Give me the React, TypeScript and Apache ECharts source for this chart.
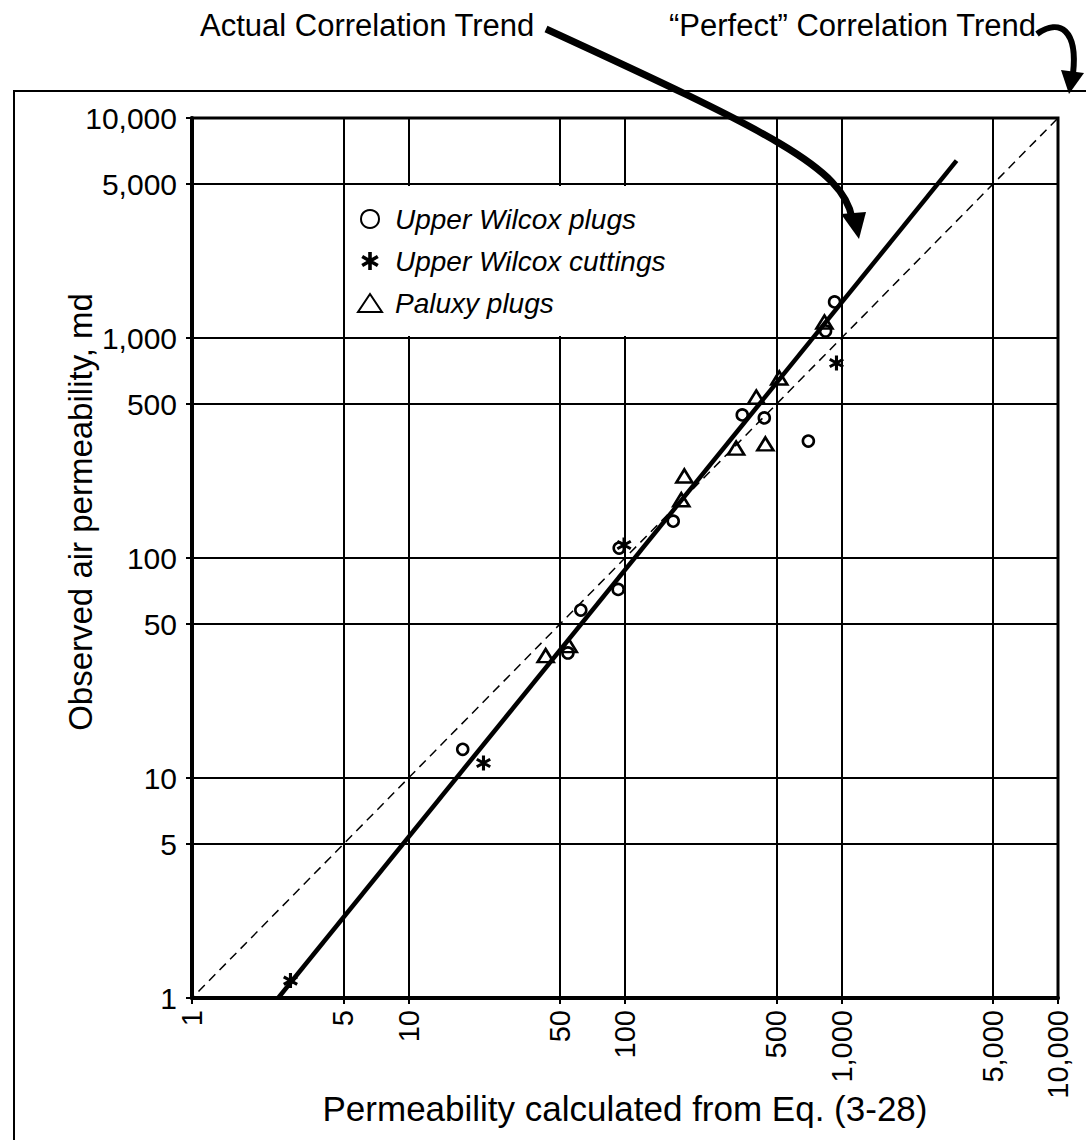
import React, { useEffect, useRef } from 'react';
import * as echarts from 'echarts';

// ---- data ----
const TICK_VALUES = [1, 5, 10, 50, 100, 500, 1000, 5000, 10000];

const UPPER_WILCOX_PLUGS: [number, number][] = [
  [17.8, 13.5], [54.5, 37], [62.5, 58], [93, 72], [94, 111], [167, 147],
  [348, 447], [440, 433], [703, 340], [844, 1076], [929, 1458],
];
const UPPER_WILCOX_CUTTINGS: [number, number][] = [
  [2.85, 1.2], [22.2, 11.7], [99, 114.6], [948, 770],
];
const PALUXY_PLUGS: [number, number][] = [
  [43, 36], [55, 40], [182, 184], [188, 236], [326, 316], [404, 539],
  [445, 330], [516, 658], [834, 1182],
];
const ACTUAL_TREND: [number, number][] = [[2.5, 1], [3400, 6400]];
const PERFECT_TREND: [number, number][] = [[0.2, 0.2], [13000, 13000]];

const SERIES_NAMES = ['Upper Wilcox plugs', 'Upper Wilcox cuttings', 'Paluxy plugs'];
const X_TITLE = 'Permeability calculated from Eq. (3-28)';
const Y_TITLE = 'Observed air permeability, md';
const NOTE_ACTUAL = 'Actual Correlation Trend';
const NOTE_PERFECT = '\u201CPerfect\u201D Correlation Trend';

const FONT = '"Liberation Sans", Arial, sans-serif';
const ASTERISK =
  'path://M-2,-10L2,-10L2,10L-2,10Z' +
  'M7.66,-6.73L9.66,-3.27L-7.66,6.73L-9.66,3.27Z' +
  'M-9.66,-3.27L-7.66,-6.73L9.66,3.27L7.66,6.73Z';

const fmt = (v: number) => Math.round(v).toLocaleString('en-US');

export default function App() {
  const ref = useRef<HTMLDivElement>(null);
  useEffect(() => {
    document.body.style.margin = '0';
    if (!ref.current) return;
    const chart = echarts.init(ref.current, null, { renderer: 'svg' });
    const axisCommon = {
      type: 'log' as const,
      logBase: 10,
      min: 1,
      max: 10000,
      axisLine: { show: true, lineStyle: { color: '#000', width: 4 } },
      axisTick: { show: true, customValues: TICK_VALUES, length: 6, lineStyle: { color: '#000', width: 2 } },
      splitLine: { show: true, lineStyle: { color: '#000', width: 2 } },
      minorTick: { show: false },
      minorSplitLine: { show: false },
      nameLocation: 'middle' as const,
      nameMoveOverlap: false,
    };
    chart.setOption({
      animation: false,
      backgroundColor: '#fff',
      grid: {
        left: 192, top: 118, width: 866, height: 880,
        show: true, borderColor: '#000', borderWidth: 3,
        outerBoundsMode: 'none', containLabel: false,
      },
      xAxis: {
        ...axisCommon,
        name: X_TITLE,
        nameGap: 93,
        nameTextStyle: { fontFamily: FONT, fontSize: 35, color: '#000' },
        axisLabel: {
          customValues: TICK_VALUES, rotate: 90, margin: 12,
          fontFamily: FONT, fontSize: 29, color: '#000', formatter: fmt,
        },
      },
      yAxis: {
        ...axisCommon,
        name: Y_TITLE,
        nameGap: 95,
        nameRotate: 90,
        nameTextStyle: { fontFamily: FONT, fontSize: 33, color: '#000', padding: [0, 0, 0, 92] },
        axisLabel: {
          customValues: TICK_VALUES, margin: 15,
          fontFamily: FONT, fontSize: 30, color: '#000', formatter: fmt,
        },
      },
      legend: {
        orient: 'vertical', left: 352, top: 199,
        itemWidth: 24, itemHeight: 18, itemGap: 12,
        selectedMode: false,
        data: SERIES_NAMES,
        textStyle: {
          fontFamily: FONT, fontStyle: 'italic', fontSize: 28, color: '#000',
          lineHeight: 30, padding: [0, 0, 0, 8],
        },
      },
      series: [
        {
          type: 'line', name: 'perfect', data: PERFECT_TREND, clip: false, silent: true,
          symbol: 'none', showSymbol: false,
          lineStyle: { color: '#000', width: 1.5, type: [9, 6] }, z: 3,
        },
        {
          type: 'line', name: 'actual', data: ACTUAL_TREND, clip: false, silent: true,
          symbol: 'none', showSymbol: false,
          lineStyle: { color: '#000', width: 4.5 }, z: 3,
        },
        {
          type: 'scatter', name: SERIES_NAMES[0], data: UPPER_WILCOX_PLUGS,
          symbol: 'circle', symbolSize: 11, z: 4,
          itemStyle: { color: 'rgba(255,255,255,0)', borderColor: '#000', borderWidth: 2.6, opacity: 1 },
        },
        {
          type: 'scatter', name: SERIES_NAMES[1], data: UPPER_WILCOX_CUTTINGS,
          symbol: ASTERISK, symbolSize: 15, z: 4,
          itemStyle: { color: '#000', borderWidth: 0, opacity: 1 },
        },
        {
          type: 'scatter', name: SERIES_NAMES[2], data: PALUXY_PLUGS,
          symbol: 'triangle', symbolSize: [16, 13], z: 4,
          itemStyle: { color: 'rgba(255,255,255,0)', borderColor: '#000', borderWidth: 2.6, opacity: 1 },
        },
      ],
      graphic: [
        {
          type: 'rect', z: 0, silent: true,
          shape: { x: 14, y: 91, width: 1300, height: 1300 },
          style: { fill: 'none', stroke: '#000', lineWidth: 2 },
        },
        {
          type: 'rect', z: 1, silent: true,
          shape: { x: 346, y: 186, width: 424, height: 150 },
          style: { fill: '#fff' },
        },
        {
          type: 'text', z: 10, x: 200, y: 25, silent: true,
          style: { text: NOTE_ACTUAL, font: `31px ${FONT}`, fill: '#000', verticalAlign: 'middle', align: 'left' },
        },
        {
          type: 'text', z: 10, x: 1036, y: 25, silent: true,
          style: { text: NOTE_PERFECT, font: `31px ${FONT}`, fill: '#000', verticalAlign: 'middle', align: 'right' },
        },
        {
          type: 'bezierCurve', z: 10, silent: true,
          shape: { x1: 546, y1: 29, cpx1: 770, cpy1: 132, cpx2: 843, cpy2: 168, x2: 852, y2: 218 },
          style: { stroke: '#000', lineWidth: 7, fill: 'none' },
        },
        {
          type: 'polygon', z: 10, silent: true,
          shape: { points: [[841, 214], [866, 212], [859, 239]] },
          style: { fill: '#000' },
        },
        {
          type: 'bezierCurve', z: 10, silent: true,
          shape: { x1: 1037, y1: 34, cpx1: 1060, cpy1: 18, cpx2: 1078, cpy2: 30, x2: 1073, y2: 74 },
          style: { stroke: '#000', lineWidth: 6, fill: 'none' },
        },
        {
          type: 'polygon', z: 10, silent: true,
          shape: { points: [[1061, 70], [1084, 73], [1069, 94]] },
          style: { fill: '#000' },
        },
      ],
    });
    return () => chart.dispose();
  }, []);
  return <div ref={ref} style={{ width: 1086, height: 1140 }} />;
}
